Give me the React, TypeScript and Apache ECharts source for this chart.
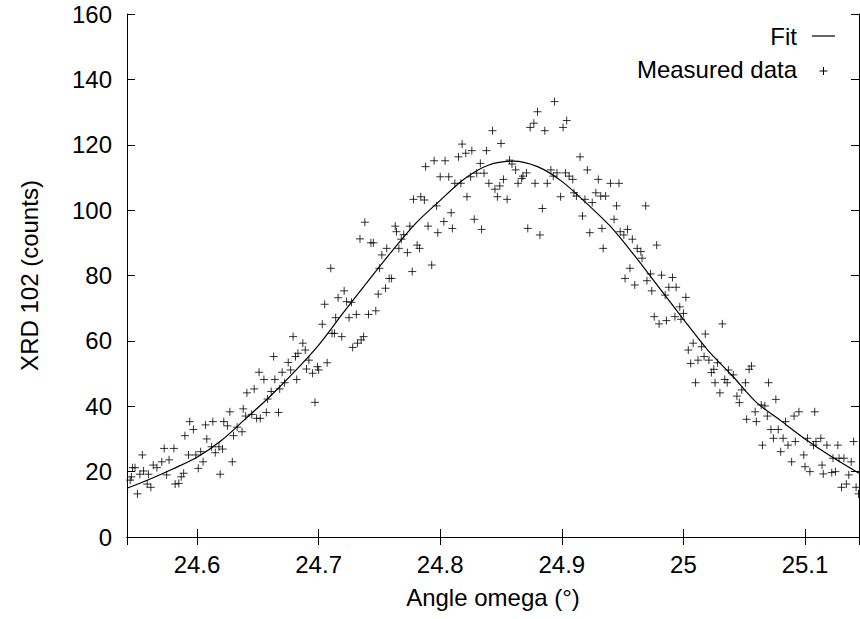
import React, { useEffect, useRef } from "react";
import * as echarts from "echarts";

const angle = [
  24.545, 24.546, 24.547, 24.549, 24.551, 24.553, 24.555, 24.556, 24.559, 24.560,
  24.562, 24.564, 24.567, 24.571, 24.573, 24.575, 24.577, 24.581, 24.582, 24.585,
  24.587, 24.589, 24.590, 24.593, 24.594, 24.597, 24.599, 24.601, 24.603, 24.605,
  24.607, 24.608, 24.612, 24.613, 24.615, 24.618, 24.619, 24.621, 24.622, 24.625,
  24.627, 24.629, 24.630, 24.633, 24.637, 24.638, 24.640, 24.641, 24.645, 24.647,
  24.649, 24.651, 24.652, 24.655, 24.657, 24.658, 24.661, 24.663, 24.664, 24.667,
  24.668, 24.670, 24.672, 24.675, 24.677, 24.679, 24.681, 24.682, 24.683, 24.687,
  24.689, 24.690, 24.692, 24.695, 24.697, 24.699, 24.700, 24.703, 24.705, 24.707,
  24.710, 24.711, 24.713, 24.714, 24.716, 24.719, 24.721, 24.723, 24.725, 24.727,
  24.728, 24.731, 24.732, 24.734, 24.735, 24.737, 24.738, 24.741, 24.743, 24.745,
  24.747, 24.749, 24.750, 24.752, 24.755, 24.756, 24.758, 24.760, 24.763, 24.764,
  24.766, 24.768, 24.770, 24.773, 24.775, 24.777, 24.778, 24.781, 24.783, 24.784,
  24.787, 24.788, 24.790, 24.793, 24.795, 24.797, 24.798, 24.800, 24.803, 24.804,
  24.807, 24.809, 24.810, 24.812, 24.815, 24.817, 24.818, 24.821, 24.822, 24.825,
  24.826, 24.828, 24.830, 24.833, 24.834, 24.836, 24.838, 24.840, 24.843, 24.845,
  24.847, 24.849, 24.850, 24.852, 24.855, 24.857, 24.859, 24.862, 24.864, 24.867,
  24.868, 24.871, 24.872, 24.874, 24.877, 24.878, 24.880, 24.882, 24.884, 24.886,
  24.888, 24.891, 24.893, 24.894, 24.896, 24.899, 24.901, 24.903, 24.904, 24.906,
  24.909, 24.910, 24.912, 24.915, 24.917, 24.919, 24.921, 24.923, 24.925, 24.928,
  24.930, 24.932, 24.933, 24.934, 24.936, 24.940, 24.943, 24.945, 24.947, 24.948,
  24.951, 24.952, 24.954, 24.956, 24.958, 24.960, 24.962, 24.965, 24.966, 24.969,
  24.970, 24.973, 24.974, 24.976, 24.978, 24.980, 24.982, 24.985, 24.986, 24.988,
  24.991, 24.993, 24.994, 24.997, 24.998, 25.000, 25.002, 25.004, 25.006, 25.008,
  25.010, 25.012, 25.015, 25.017, 25.018, 25.021, 25.023, 25.025, 25.026, 25.028,
  25.030, 25.032, 25.034, 25.036, 25.037, 25.041, 25.044, 25.046, 25.048, 25.051,
  25.052, 25.054, 25.056, 25.059, 25.060, 25.064, 25.065, 25.067, 25.069, 25.070,
  25.072, 25.074, 25.076, 25.078, 25.080, 25.082, 25.084, 25.086, 25.089, 25.091,
  25.092, 25.095, 25.099, 25.100, 25.102, 25.104, 25.107, 25.108, 25.109, 25.113,
  25.114, 25.115, 25.118, 25.122, 25.123, 25.125, 25.127, 25.128, 25.130, 25.132,
  25.134, 25.136, 25.138, 25.140, 25.142, 25.144,
];
const counts = [
  17.4, 18.4, 21.2, 21.2, 13.2, 19.2, 25.1, 20.2, 16.2, 19.2,
  15.2, 22.0, 21.2, 23.0, 27.1, 19.0, 23.6, 27.1, 16.2, 16.4,
  18.4, 19.5, 31.0, 25.1, 35.3, 32.9, 25.1, 21.0, 26.1, 23.0,
  34.3, 30.0, 27.6, 35.3, 25.8, 27.6, 19.2, 26.9, 35.3, 34.0,
  38.3, 23.0, 31.0, 33.6, 32.2, 39.2, 37.0, 44.1, 37.5, 45.3,
  36.3, 50.4, 36.3, 48.2, 38.1, 42.2, 44.5, 55.2, 48.2, 38.1,
  45.3, 50.4, 47.2, 53.4, 51.1, 61.3, 55.2, 48.2, 56.2, 59.3,
  57.2, 51.4, 54.1, 50.1, 41.2, 52.1, 51.1, 65.1, 71.2, 53.3,
  82.2, 62.3, 62.3, 67.1, 73.2, 61.3, 75.3, 72.0, 67.1, 71.8,
  58.0, 68.1, 59.3, 91.2, 60.3, 61.3, 96.3, 68.1, 90.0, 90.0,
  69.2, 74.3, 82.2, 86.3, 76.1, 88.3, 79.1, 79.1, 95.1, 93.4,
  88.3, 91.1, 92.5, 87.0, 95.1, 81.2, 103.3, 89.3, 88.3, 104.1,
  103.1, 113.3, 95.1, 83.2, 115.1, 101.3, 93.1, 110.2, 96.5, 115.1,
  110.2, 99.2, 94.4, 108.2, 116.3, 108.2, 120.2, 117.4, 104.1, 110.2,
  118.2, 97.2, 111.3, 114.3, 94.1, 111.3, 118.2, 108.2, 124.3, 106.4,
  104.1, 107.4, 120.4, 109.4, 103.3, 115.3, 114.1, 112.3, 108.2, 109.7,
  110.4, 111.4, 94.4, 125.3, 126.6, 108.2, 130.1, 92.4, 100.5, 124.3,
  108.2, 112.3, 110.4, 133.2, 111.4, 104.1, 125.3, 111.4, 127.4, 110.4,
  109.4, 105.3, 104.3, 116.3, 98.2, 103.3, 112.3, 93.1, 102.3, 105.3,
  109.4, 104.3, 94.4, 88.3, 104.3, 108.2, 97.2, 101.3, 108.2, 93.4,
  92.4, 79.1, 94.1, 82.2, 91.1, 77.1, 88.3, 87.3, 85.3, 101.3,
  78.4, 80.5, 75.3, 67.4, 89.3, 65.2, 80.1, 74.0, 66.2, 76.4,
  79.4, 67.4, 76.4, 70.4, 66.6, 68.4, 73.3, 57.2, 53.1, 59.3,
  47.2, 54.1, 58.2, 55.2, 62.1, 54.1, 50.3, 51.3, 47.2, 53.3,
  44.1, 65.2, 48.2, 47.2, 51.1, 49.6, 43.1, 41.1, 45.0, 47.2,
  36.0, 51.3, 52.3, 38.3, 35.3, 40.4, 28.1, 40.1, 37.0, 47.2,
  32.9, 30.2, 42.1, 32.9, 26.1, 30.2, 35.3, 28.1, 23.0, 37.0,
  29.2, 38.3, 25.1, 21.5, 30.2, 20.0, 28.1, 38.3, 29.2, 30.2,
  22.0, 19.3, 28.1, 19.7, 24.1, 20.0, 28.1, 24.1, 15.2, 24.1,
  16.2, 19.0, 23.0, 29.2, 15.2, 13.2,
];

// Fit curve
const fitAngle = [
  24.5424, 24.56, 24.58, 24.6, 24.62, 24.64, 24.66, 24.68, 24.7, 24.72, 24.74,
  24.76, 24.78, 24.8, 24.82, 24.84, 24.86, 24.88, 24.9, 24.92, 24.94, 24.96,
  24.98, 25.0, 25.02, 25.04, 25.06, 25.08, 25.1, 25.12, 25.1444,
];
const fitCounts = [
  14.9, 17.5, 20.8, 24.4, 29.5, 36.2, 43.0, 50.5, 58.7, 68.5, 78.0,
  87.3, 96.0, 103.0, 109.6, 113.8, 115.0, 113.3, 108.8, 102.2, 95.0, 86.0,
  76.3, 66.6, 57.2, 49.4, 41.2, 35.6, 30.0, 25.0, 19.5,
];

const seriesNames = ["Fit", "Measured data"];
const xTitle = "Angle omega (°)";
const yTitle = "XRD 102 (counts)";
const xRange = [24.5424, 25.1444];
const yRange = [0, 160];
const yStep = 20;

export default function App() {
  const ref = useRef<HTMLDivElement>(null);

  useEffect(() => {
    document.body.style.margin = "0";
    const chart = echarts.init(ref.current as HTMLDivElement, null, { renderer: "svg" });
    const font = "'Liberation Sans', Arial, Helvetica, sans-serif";
    const fs = 24;
    const black = "#000";
    const plus = "path://M0,4L8,4M4,0L4,8";

    const tickCommon = { show: true, inside: true, length: 8, lineStyle: { color: black, width: 1 } };
    const lineCommon = { show: true, lineStyle: { color: black, width: 1 } };

    chart.setOption({
      animation: false,
      backgroundColor: "#fff",
      textStyle: { fontFamily: font },
      grid: { left: 127, right: 1, top: 14, bottom: 82, containLabel: false },
      xAxis: [
        {
          type: "value",
          min: xRange[0],
          max: xRange[1],
          position: "bottom",
          name: xTitle,
          nameLocation: "middle",
          nameGap: 48,
          nameTextStyle: { fontSize: fs, color: black, fontFamily: font },
          axisLine: lineCommon,
          axisTick: tickCommon,
          splitLine: { show: false },
          axisLabel: {
            show: true,
            margin: 15,
            fontSize: fs,
            color: black,
            fontFamily: font,
            showMinLabel: false,
            showMaxLabel: false,
            formatter: (v: number) => String(+v.toFixed(2)),
          },
        },
        {
          type: "value",
          min: xRange[0],
          max: xRange[1],
          position: "top",
          axisLine: lineCommon,
          axisTick: tickCommon,
          splitLine: { show: false },
          axisLabel: { show: false },
        },
      ],
      yAxis: [
        {
          type: "value",
          min: yRange[0],
          max: yRange[1],
          interval: yStep,
          position: "left",
          name: yTitle,
          nameLocation: "middle",
          nameGap: 86,
          nameTextStyle: { fontSize: fs, color: black, fontFamily: font },
          axisLine: lineCommon,
          axisTick: tickCommon,
          splitLine: { show: false },
          axisLabel: { show: true, margin: 15, fontSize: fs, color: black, fontFamily: font },
        },
        {
          type: "value",
          min: yRange[0],
          max: yRange[1],
          interval: yStep,
          position: "right",
          axisLine: lineCommon,
          axisTick: tickCommon,
          splitLine: { show: false },
          axisLabel: { show: false },
        },
      ],
      series: [
        {
          name: seriesNames[0],
          type: "line",
          xAxisIndex: 0,
          yAxisIndex: 0,
          data: fitAngle.map((a, i) => [a, fitCounts[i]]),
          smooth: 0.3,
          symbol: "none",
          lineStyle: { color: black, width: 1.2 },
          z: 3,
        },
        {
          name: seriesNames[1],
          type: "scatter",
          xAxisIndex: 0,
          yAxisIndex: 0,
          data: angle.map((a, i) => [a, counts[i]]),
          symbol: plus,
          symbolSize: 8,
          itemStyle: { color: "transparent", borderColor: black, borderWidth: 1 },
          z: 2,
        },
      ],
      graphic: [
        {
          type: "text",
          x: 797,
          y: 36,
          style: { text: seriesNames[0], fontSize: fs, fontFamily: font, fill: black, align: "right", verticalAlign: "middle" },
        },
        {
          type: "line",
          shape: { x1: 812, y1: 36, x2: 835, y2: 36 },
          style: { stroke: black, lineWidth: 1.2 },
        },
        {
          type: "text",
          x: 797,
          y: 69,
          style: { text: seriesNames[1], fontSize: fs, fontFamily: font, fill: black, align: "right", verticalAlign: "middle" },
        },
        {
          type: "line",
          shape: { x1: 819.5, y1: 71, x2: 827.5, y2: 71 },
          style: { stroke: black, lineWidth: 1 },
        },
        {
          type: "line",
          shape: { x1: 823.5, y1: 67, x2: 823.5, y2: 75 },
          style: { stroke: black, lineWidth: 1 },
        },
      ],
    });

    return () => chart.dispose();
  }, []);

  return <div ref={ref} style={{ width: 860, height: 619 }} />;
}
